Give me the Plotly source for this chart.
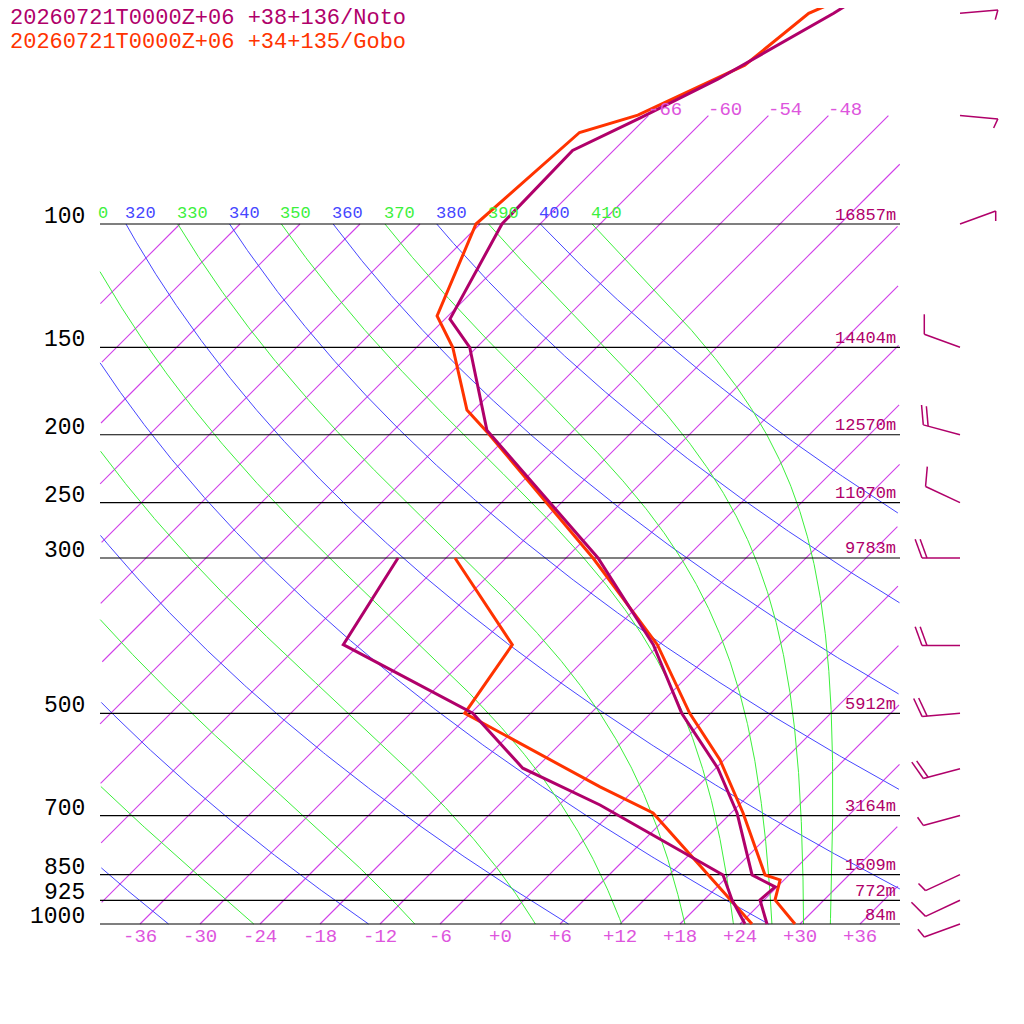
import numpy as np
import plotly.graph_objects as go

# ---------------- data ----------------
noto_T_p = [47.8, 50, 62.1, 70.6, 78.5, 100, 136.7, 150, 197, 300, 399, 500, 599, 694, 851, 885, 924, 1000]
noto_T = [-56.9, -57.7, -62.7, -66.6, -70.1, -69.8, -65.5, -60.7, -50.7, -26.8, -12.6, -2.9, 6.2, 12.6, 20.3, 23.8, 23.6, 26.7]
noto_Td_p = [300, 399, 500, 599, 676, 851, 924, 1000]
noto_Td = [-46.8, -43.6, -23.8, -13.3, -1.9, 17.4, 20.8, 24.5]

gobo_T_p = [47.8, 50, 59.3, 69.9, 74.0, 100, 135.3, 150, 184.4, 198.9, 300, 399, 500, 583, 694, 851, 865, 924, 1000]
gobo_T = [-58.4, -60.2, -61.4, -67.1, -71.2, -72.4, -67.1, -62.4, -54.7, -50.3, -27.3, -12.2, -2.1, 5.6, 13.2, 21.6, 23.6, 25.1, 29.5]
gobo_Td_p = [300, 399, 500, 637, 694, 924, 1000]
gobo_Td = [-41.1, -26.7, -24.6, -3.7, 4.2, 20.7, 25.2]

wind_p = [50, 70, 100, 150, 200, 250, 300, 400, 500, 600, 700, 850, 925, 1000]
wind_dir = [85, 95, 70, 290, 285, 295, 270, 270, 265, 255, 255, 245, 245, 250]
wind_kt = [5, 5, 5, 10, 20, 10, 20, 20, 20, 20, 5, 5, 10, 5]

isobars = [100, 150, 200, 250, 300, 500, 700, 850, 925, 1000]
heights = ["16857m", "14404m", "12570m", "11070m", "9783m", "5912m", "3164m", "1509m", "772m", "84m"]
temp_ticks = [-36, -30, -24, -18, -12, -6, 0, 6, 12, 18, 24, 30, 36]
isotherm_temps = list(range(-102, 37, 6))
top_iso_labels = [-66, -60, -54, -48]
dry_thetas = [240, 260, 280, 300, 320, 340, 360, 380, 400]
moist_thetas = [250, 270, 290, 310, 330, 350, 370, 390, 410]
title_noto = "20260721T0000Z+06 +38+136/Noto"
title_gobo = "20260721T0000Z+06 +34+135/Gobo"

# ---------------- geometry ----------------
K = 30.4            # skew: degrees per ln(p) unit
XMIN, XMAX = -40, 40
OFF = 8             # page body margin in px
P_TOP_PX = 1000 * np.exp(-(924 - OFF) / 304)
P_BOT_PX = 1000 * np.exp((1024 + OFF - 924) / 304)

def X(T, p):
    return np.asarray(T) + K * np.log(1000 / np.asarray(p, dtype=float))

def px2data(px, py):
    return (px - 500) / 10.0, 1000 * np.exp(-(924 - py) / 304.0)

def data2px(Xv, p):
    return 500 + 10 * Xv, 924 - 304 * np.log(1000 / p)

C_VIOLET = "#d040e8"
C_BLUE = "#4646ff"
C_GREEN = "#3cf03c"
C_NOTO = "#b0006a"
C_GOBO = "#ff3300"
MONO = "Liberation Mono"

fig = go.Figure()

def add_line(xs, ys, color, width=1.0):
    fig.add_trace(go.Scatter(x=xs, y=ys, mode="lines", line=dict(color=color, width=width),
                             hoverinfo="skip", showlegend=False))

def clipped_pts(Ts, ps):
    Xs = X(Ts, ps)
    m = (Xs >= XMIN) & (Xs <= XMAX)
    xs = [float(v) if ok else None for v, ok in zip(Xs, m)]
    return xs, [float(v) for v in ps]

# isotherms (one trace, separated by gaps)
ix, iy = [], []
for T in isotherm_temps:
    ptop = 70 if T >= -66 else 100
    ps = np.geomspace(1000, ptop, 300)
    xs, ys = clipped_pts(np.full(len(ps), float(T)), ps)
    ix += xs + [None]; iy += ys + [None]
fig.add_trace(go.Scatter(x=ix, y=iy, mode="lines", connectgaps=False,
                         line=dict(color=C_VIOLET, width=1.1), hoverinfo="skip", showlegend=False))

# dry adiabats
ps_all = np.geomspace(1000, 100, 500)
for th in dry_thetas:
    Ts = th * (ps_all / 1000) ** 0.2857 - 273.15
    xs, ys = clipped_pts(Ts, ps_all)
    add_line(xs, ys, C_BLUE)

# moist (pseudo) adiabats, integrated downward from 100 hPa
Rd, cp, Lv, eps = 287.04, 1005.7, 2.501e6, 0.622
def dTdp(T, p):
    tc = T - 273.15
    es = 6.112 * np.exp(17.67 * tc / (tc + 243.5))
    rs = eps * es / (p - es)
    return (Rd * T + Lv * rs) / (p * (cp + Lv * Lv * rs * eps / (Rd * T * T)))

for th in moist_thetas:
    ps = np.geomspace(100, 1000, 500)
    T = th * 0.1 ** 0.2857
    Ts = [T]
    for i in range(1, len(ps)):
        dp = ps[i] - ps[i - 1]
        k1 = dTdp(T, ps[i - 1])
        k2 = dTdp(T + k1 * dp, ps[i])
        T = T + 0.5 * (k1 + k2) * dp
        Ts.append(T)
    xs, ys = clipped_pts(np.array(Ts) - 273.15, ps)
    add_line(xs, ys, C_GREEN)

# isobars
for p in isobars:
    add_line([XMIN, XMAX], [p, p], "black", 1.2)

# profiles
add_line(list(X(gobo_T, gobo_T_p)), gobo_T_p, C_GOBO, 3)
add_line(list(X(gobo_Td, gobo_Td_p)), gobo_Td_p, C_GOBO, 3)
add_line(list(X(noto_T, noto_T_p)), noto_T_p, C_NOTO, 3)
add_line(list(X(noto_Td, noto_Td_p)), noto_Td_p, C_NOTO, 3)

# wind barbs
for p, d, s in zip(wind_p, wind_dir, wind_kt):
    _, by = data2px(0, p)
    bx = 960
    a = np.deg2rad(d)
    dx, dy = np.sin(a), -np.cos(a)
    L = 38
    tx, ty = bx + dx * L, by + dy * L
    segs = [[(bx, by), (tx, ty)]]
    r = np.deg2rad(70 if dx < 0 else 110)
    rx = dx * np.cos(r) - dy * np.sin(r)
    ry = dx * np.sin(r) + dy * np.cos(r)
    rem = s
    pos = 0
    while rem >= 10:
        sx, sy = tx - dx * pos, ty - dy * pos
        segs.append([(sx, sy), (sx + rx * 20, sy + ry * 20)])
        rem -= 10
        pos += 5
    if rem >= 5:
        sx, sy = tx - dx * pos, ty - dy * pos
        segs.append([(sx, sy), (sx + rx * 10, sy + ry * 10)])
    xs, ys = [], []
    for (x0, y0), (x1, y1) in segs:
        a0 = px2data(x0, y0); a1 = px2data(x1, y1)
        xs += [a0[0], a1[0], None]; ys += [a0[1], a1[1], None]
    add_line(xs, ys, C_NOTO, 1.5)

# annotations
ann = []
def txt(px, py, t, color, size, anchor="left"):
    Xv, p = px2data(px, py)
    ann.append(dict(x=Xv, y=np.log10(p), text=t, showarrow=False, xanchor=anchor,
                    yanchor="middle", font=dict(family=MONO, size=size, color=color)))

for p, h in zip(isobars, heights):
    _, py = data2px(0, p)
    txt(87, py - 7, str(p), "black", 23, "right")
    txt(898, py - 9, h, C_NOTO, 17, "right")

for T in temp_ticks:
    lab = ("+%d" % T) if T >= 0 else ("%d" % T)
    px, _ = data2px(T, 1000)
    txt(px, 937, lab, "#dd55dd", 19, "center")

for T in top_iso_labels:
    px, py = data2px(X(T, 70), 70)
    txt(px - 2, 110, str(T), "#dd55dd", 19, "left")

for th in sorted(dry_thetas + moist_thetas):
    if th < 320 and th != 310:
        continue
    T100 = th * 0.1 ** 0.2857 - 273.15
    px, _ = data2px(X(T100, 100), 100)
    col = C_BLUE if th in dry_thetas else C_GREEN
    if th == 310:
        txt(px + 22, 213, "0", col, 17, "left")
        continue
    txt(px - 3, 213, str(th), col, 17, "left")

txt(8, 18, title_noto, C_NOTO, 22, "left")
txt(8, 42, title_gobo, C_GOBO, 22, "left")
for a in ann:
    fig.add_annotation(**a)

fig.update_layout(
    width=1024, height=1024, margin=dict(l=0, r=0, t=0, b=0),
    paper_bgcolor="white", plot_bgcolor="white", showlegend=False,
    xaxis=dict(range=[-50 + OFF / 10, 52.4 + OFF / 10], visible=False, fixedrange=True),
    yaxis=dict(type="log", range=[np.log10(P_BOT_PX), np.log10(P_TOP_PX)], visible=False, fixedrange=True),
)
fig.write_html("out.html")
